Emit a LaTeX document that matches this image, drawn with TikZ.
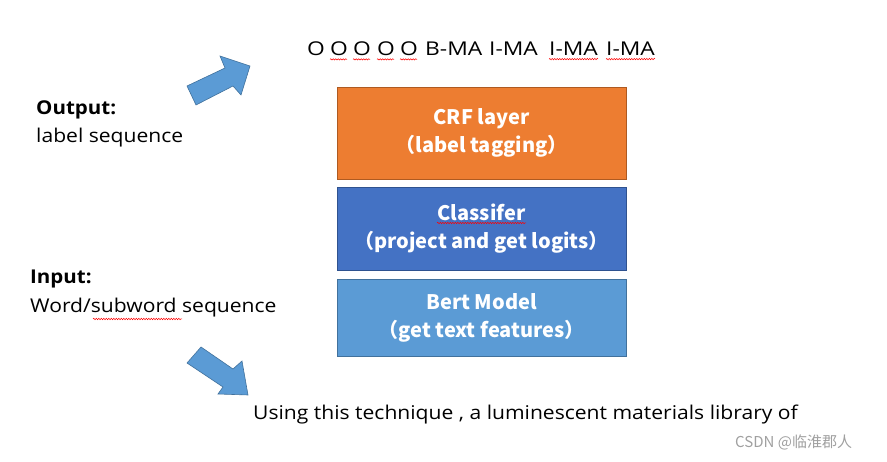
\documentclass[tikz,border=0pt]{standalone}
\usepackage{fontspec}
\usepackage{graphicx}
\setmainfont{Open Sans}
\newfontfamily\cjkfont{Noto Sans CJK SC}
\usetikzlibrary{decorations.pathmorphing}
\definecolor{arrowfill}{HTML}{5B9BD5}
\definecolor{arrowline}{HTML}{41719C}
\definecolor{orangefill}{HTML}{ED7D31}
\definecolor{orangeline}{HTML}{AE5A21}
\definecolor{bluefill}{HTML}{4472C4}
\definecolor{blueline}{HTML}{2F528F}
\definecolor{wm}{HTML}{A0A0A0}
\newcommand{\widetext}[1]{\scalebox{1.11}[1]{#1}}
\newcommand{\tokentext}[1]{\scalebox{1.2}[1]{#1}}
\tikzset{
  layerbox/.style={draw, line width=0.8pt, minimum width=289pt, text=white, font=\cjkfont\fontsize{20}{28}\selectfont\bfseries, align=center, inner sep=0pt},
  plain/.style={anchor=base west, inner sep=0pt, font=\fontsize{19}{24}\selectfont, text=black},
  boldlabel/.style={anchor=base west, inner sep=0pt, font=\fontsize{19}{24}\selectfont\bfseries, text=black},
  bigarrow/.style={fill=arrowfill, draw=arrowline, line width=0.6pt, line join=miter},
  spell/.style={draw=red, line width=0.5pt, decorate, decoration={snake, amplitude=0.7pt, segment length=2.5pt}}
}
\begin{document}
\begin{tikzpicture}[x=1pt,y=-1pt]
\useasboundingbox (0,0) rectangle (887,462);
% layer boxes
\node[layerbox, fill=orangefill, draw=orangeline, minimum height=92pt] (crf) at (481.5,133) {CRF layer\\（label tagging）};
\node[layerbox, fill=bluefill, draw=blueline, minimum height=83pt] (cls) at (481.5,228.5) {Classifer\\（project and get logits）};
\node[layerbox, fill=arrowfill, draw=arrowline, minimum height=77pt] (bert) at (481.5,317.5) {Bert Model\\（get text features）};
% label sequence tokens
\node[plain] (o1) at (307,56) {\tokentext{O}};
\node[plain] (o2) at (330,56) {\tokentext{O}};
\node[plain] (o3) at (353,56) {\tokentext{O}};
\node[plain] (o4) at (377,56) {\tokentext{O}};
\node[plain] (o5) at (400,56) {\tokentext{O}};
\node[plain] (b1) at (425,56) {\tokentext{B-MA}};
\node[plain] (i1) at (489,56) {\tokentext{I-MA}};
\node[plain] (i2) at (549,56) {\tokentext{I-MA}};
\node[plain] (i3) at (606,56) {\tokentext{I-MA}};
% texts
\node[boldlabel] (outh) at (36,115) {\scalebox{1.08}[1]{Output:}};
\node[plain] (outt) at (36,143) {\widetext{label sequence}};
\node[boldlabel] (inh) at (30,284) {\scalebox{1.08}[1]{Input:}};
\node[plain] (inth) at (30,313) {\widetext{Word/subword sequence}};
\node[plain] (sent) at (253,420) {\widetext{Using this technique , a luminescent materials library of}};
\node[anchor=base west, inner sep=0pt, font=\cjkfont\fontsize{15}{18}\selectfont, text=wm] (wmark) at (735,447) {CSDN @临淮郡人};
% spellcheck marks
\draw[spell] (o2.south west) ++(0,3) -- ++(17,0);
\draw[spell] (o3.south west) ++(0,3) -- ++(17,0);
\draw[spell] (o4.south west) ++(0,3) -- ++(17,0);
\draw[spell] (o5.south west) ++(0,3) -- ++(17,0);
\draw[spell] (i2.south west) ++(0,3) -- (i2.south east |- 0,59);
\draw[spell] (i3.south west) ++(0,3) -- (i3.south east |- 0,59);
\draw[spell] (93,319) -- (182,319);
\draw[spell] (437,223) -- (526,223);
% big arrows
\draw[bigarrow] (187,86) -- (225,68) -- (220,56) -- (250,66) -- (241,95) -- (233,86) -- (196,105) -- cycle;
\draw[bigarrow] (201,347) -- (233,369) -- (242,361) -- (248,395) -- (218,394) -- (223,387) -- (187,363) -- cycle;
\end{tikzpicture}
\end{document}
